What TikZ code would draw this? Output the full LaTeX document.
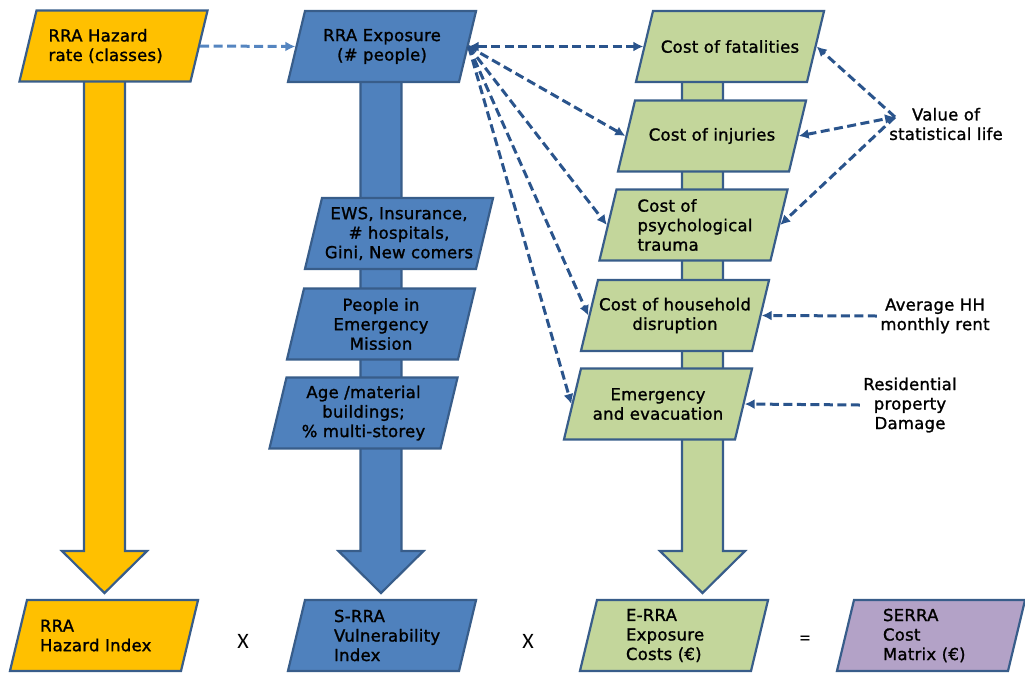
\documentclass[tikz,border=0pt]{standalone}
\usepackage{fontspec}
\setmainfont{DejaVu Sans}[LetterSpace=1.5, FakeBold=1.3]
\newfontfamily\signfont{Carlito}
\usetikzlibrary{shapes.geometric,arrows.meta}

\definecolor{hazyel}{HTML}{FFC000}
\definecolor{vulblue}{HTML}{4F81BD}
\definecolor{costgrn}{HTML}{C3D69B}
\definecolor{serrapur}{HTML}{B3A2C7}
\definecolor{edgeblue}{HTML}{385D8A}
\definecolor{dashblue}{HTML}{2A548C}
\definecolor{lightdash}{HTML}{5585C0}

\tikzset{
  boxshape/.style={trapezium, trapezium left angle=76.5, trapezium right angle=103.5,
    draw=edgeblue, line width=2.2pt, inner xsep=-5pt, inner ysep=3pt,
    font=\fontsize{16.5}{19.5}\selectfont},
  box/.style={boxshape,
    execute at begin node={\begin{minipage}[c][65pt][c]{164pt}\centering},
    execute at end node={\end{minipage}}},
  leftbox/.style={boxshape,
    execute at begin node={\begin{minipage}[c][65pt][c]{164pt}\raggedright\leftskip=#1},
    execute at end node={\end{minipage}}},
  leftbox/.default=34pt,
  colarrow/.style={draw=edgeblue, line width=2.2pt, line join=miter},
  sidetext/.style={align=center, font=\fontsize{16.5}{19.5}\selectfont},
  sign/.style={font=\signfont\fontsize{22}{22}\selectfont},
  link/.style={dashblue, line width=3pt, dash pattern=on 9pt off 4.5pt, -{Latex[length=10pt,width=10pt]}},
}

\begin{document}
\begin{tikzpicture}[x=1pt, y=-1pt]
    \useasboundingbox (0,0) rectangle (1025,673);

    % 1. Cac cot mui ten lon (nam duoi cac hop)
    \foreach \col/\xc in {hazyel/104.5, vulblue/381, costgrn/702.5}
        \draw[colarrow, fill=\col] (\xc-20.5,60) -- (\xc-20.5,551) -- (\xc-42.5,551)
            -- (\xc,593) -- (\xc+42.5,551) -- (\xc+20.5,551) -- (\xc+20.5,60) -- cycle;

    % 2. Hang tren va cot Exposure
    \node[leftbox=17pt, fill=hazyel] (haz) at (113.5,46) {RRA Hazard\\rate (classes)};
    \node[box, fill=vulblue] (exp) at (382,46.5) {RRA Exposure\\(\# people)};
    \node[box, fill=vulblue] (ews) at (399,233.5) {EWS, Insurance,\\\# hospitals,\\Gini, New comers};
    \node[box, fill=vulblue] (pem) at (381,324) {People in\\Emergency\\Mission};
    \node[box, fill=vulblue] (age) at (363.5,413) {Age /material\\buildings;\\\% multi-storey};

    % 3. Cac hop chi phi
    \node[box, fill=costgrn] (fat) at (730,46.5) {Cost of fatalities};
    \node[box, fill=costgrn] (inj) at (712,136) {Cost of injuries};
    \node[leftbox=26pt, fill=costgrn] (psy) at (693.5,225) {Cost of\\psychological\\trauma};
    \node[box, fill=costgrn] (hhd) at (675,315.5) {Cost of household\\disruption};
    \node[box, fill=costgrn] (emg) at (658,404) {Emergency\\and evacuation};

    % 4. Hang duoi
    \node[leftbox=18pt, fill=hazyel] (hazidx) at (104,635.5) {RRA\\Hazard Index};
    \node[leftbox, fill=vulblue] (vulidx) at (382,635.5) {S-RRA\\Vulnerability\\Index};
    \node[leftbox, fill=costgrn] (expcost) at (674,635.5) {E-RRA\\Exposure\\Costs (€)};
    \node[leftbox, fill=serrapur] (serra) at (931,635.5) {SERRA\\Cost\\Matrix (€)};
    \node[sign] (times1) at (243,641) {X};
    \node[sign] (times2) at (528,641) {X};
    \node[sign] (equals) at (805,641) {=};

    % 5. Nguon du lieu ben phai
    \node[sidetext] (vsl) at (946,124) {Value of\\statistical life};
    \node[sidetext] (rent) at (935,316) {Average HH\\monthly rent};
    \node[sidetext] (res) at (910,405) {Residential\\property\\Damage};
    \coordinate (vslpt) at (895,117);

    % 6. Cac mui ten net dut
    \draw[link, lightdash] (haz.east) -- (exp.west);
    \draw[link, {Latex[length=10pt,width=10pt]}-{Latex[length=10pt,width=10pt]}] (exp.east) -- (fat.west);
    \foreach \b in {inj, psy, hhd, emg}
        \draw[link] (exp.east) -- (\b.west);
    \draw[link] (vslpt) -- (fat.east);
    \draw[link, {Latex[length=10pt,width=10pt]}-{Latex[length=10pt,width=10pt]}] (inj.east) -- (vslpt);
    \draw[link] (vslpt) -- (psy.east);
    \draw[link] (rent.west) -- (hhd.east);
    \draw[link] (res.west) -- (emg.east);
\end{tikzpicture}
\end{document}
